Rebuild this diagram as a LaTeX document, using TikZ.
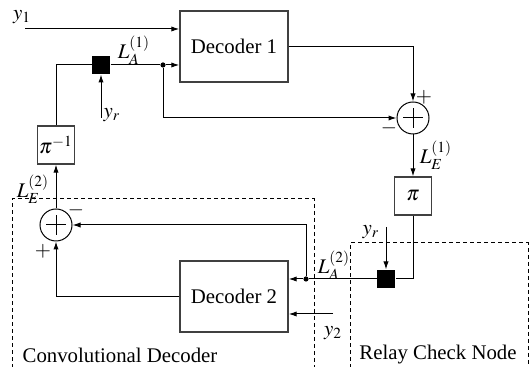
\documentclass[tikz,border=0pt]{standalone}
\usepackage{mathptmx}
\usepackage{fontspec}
\setmainfont{Liberation Serif}
\usetikzlibrary{arrows.meta,positioning}

\begin{document}
\begin{tikzpicture}[
      x=0.5pt,y=-0.5pt,
      >={Latex[length=4pt,width=2.6pt]},
      line width=0.5pt,
      font=\fontsize{10.4}{12}\selectfont,
      blk/.style={draw=black!75,line width=0.7pt,minimum width=54pt,minimum height=35.5pt,inner sep=0pt},
      perm/.style={draw=black!75,line width=0.6pt,minimum width=18.5pt,minimum height=19pt,inner sep=0pt},
      adder/.style={circle,draw,minimum size=16pt,inner sep=0pt,
        path picture={\draw ([xshift=-5pt]path picture bounding box.center) -- ([xshift=5pt]path picture bounding box.center)
          ([yshift=-5pt]path picture bounding box.center) -- ([yshift=5pt]path picture bounding box.center);}},
      chk/.style={fill,minimum size=9pt,inner sep=0pt},
      jn/.style={circle,fill,minimum size=2.6pt,inner sep=0pt},
      zone/.style={dash pattern=on 2pt off 1.5pt},
      lbl/.style={inner sep=0pt}]
    \useasboundingbox (0,0) rectangle (531,367);
    % dashed regions
    \draw[zone] (12,375) |- (314,199) -- (314,375);
    \draw[zone] (350,375) |- (528,243) -- (528,375);
    \node[lbl] (convlbl) at (120,355) {Convolutional Decoder};
    \node[lbl] (relaylbl) at (438,355) {Relay Check Node};
    % blocks
    \node[blk] (dec1) at (234,46.5) {Decoder 1};
    \node[blk] (dec2) at (234,296.5) {Decoder 2};
    \node[adder] (sum1) at (413,118) {};
    \node[adder] (sum2) at (56,225) {};
    \node[perm] (pi) at (413,196) {$\pi$};
    \node[perm] (pinv) at (56,145) {$\pi^{-1}$};
    \node[chk] (chk1) at (101,65) {};
    \node[chk] (chk2) at (386,279) {};
    \node[jn] (jn1) at (163,65) {};
    \node[jn] (jn2) at (306,279) {};
    \coordinate (y1in) at (25,29);
    \coordinate (yrin1) at (101,118);
    \coordinate (yrin2) at (386,227);
    \coordinate (y2in) at (333,314);
    % connectors, upper decoder
    \draw[->] (y1in) -- (y1in -| dec1.west);
    \draw (pinv.north) |- (chk1.west);
    \draw[->] (chk1.east) -- (jn1) -- (jn1 -| dec1.west);
    \draw[->] (jn1) |- (sum1.west);
    \draw[->] (yrin1) -- (chk1.south);
    \draw[->] (dec1.east) -| (sum1.north);
    \draw[->] (sum1.south) -- (pi.north);
    % connectors, lower decoder
    \draw (pi.south) |- (chk2.east);
    \draw[->] (yrin2) -- (chk2.north);
    \draw[->] (chk2.west) -- (jn2) -- (jn2 -| dec2.east);
    \draw[->] (jn2) |- (sum2.east);
    \draw[->] (dec2.west) -| (sum2.south);
    \draw[->] (y2in) -- (y2in -| dec2.east);
    \draw[->] (sum2.north) -- (pinv.south);
    % labels
    \node[lbl] (y1lbl) at (22,17) {$y_1$};
    \node[lbl] (la1lbl) at (134,50) {$L_A^{(1)}$};
    \node[lbl] (yr1lbl) at (112,115) {$y_r$};
    \node[lbl] (plus1) at (424,97) {$+$};
    \node[lbl] (minus1) at (389,128) {$-$};
    \node[lbl] (le1lbl) at (436,155) {$L_E^{(1)}$};
    \node[lbl] (le2lbl) at (33,189) {$L_E^{(2)}$};
    \node[lbl] (minus2) at (76,210) {$-$};
    \node[lbl] (plus2) at (43,251) {$+$};
    \node[lbl] (yr2lbl) at (371,232) {$y_r$};
    \node[lbl] (la2lbl) at (334,265) {$L_A^{(2)}$};
    \node[lbl] (y2lbl) at (333,333) {$y_2$};
  \end{tikzpicture}
\end{document}
